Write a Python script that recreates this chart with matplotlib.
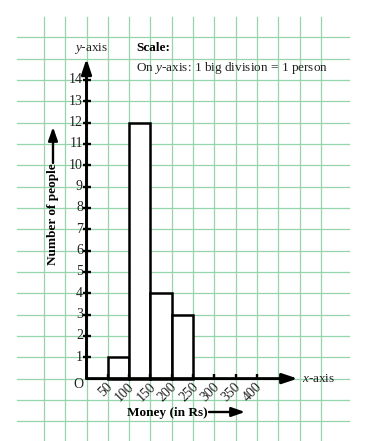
import matplotlib
matplotlib.use("Agg")
import matplotlib.pyplot as plt

# money spent by people, class intervals of Rs 50
class_starts = [50, 100, 150, 200]
people = [1, 12, 4, 3]
class_width = 50
x_tick_values = [50, 100, 150, 200, 250, 300, 350, 400]
y_tick_values = list(range(1, 15))

plt.rcParams['font.family'] = 'Liberation Serif'
plt.rcParams['mathtext.fontset'] = 'custom'
plt.rcParams['mathtext.rm'] = 'Liberation Serif'
plt.rcParams['mathtext.it'] = 'Liberation Serif:italic'

GRID = '#97d3ab'
CELL = 21.33          # size of one graph-paper square in pixels
ORIGIN = (86.5, 378.6)  # where the axes cross, in pixels
W, H = 382, 441


def px_x(p):
    return (p - ORIGIN[0]) / CELL * class_width


def px_y(p):
    return (ORIGIN[1] - p) / CELL


fig = plt.figure(figsize=(W / 100, H / 100), dpi=100)
ax = fig.add_axes([0, 0, 1, 1])
ax.set_xlim(px_x(0), px_x(W))
ax.set_ylim(px_y(H), px_y(0))
ax.axis('off')

# graph paper
for gx in range(-100, 551, 50):
    ax.plot([gx, gx], [px_y(H + 5), px_y(17)], color=GRID, lw=0.9, zorder=1)
for gy in range(-2, 17):
    ax.plot([px_x(17), px_x(349)], [gy, gy], color=GRID, lw=0.9, zorder=1)

# histogram
ax.bar(class_starts, people, width=class_width, align='edge',
       facecolor='white', edgecolor='black', linewidth=1.8, zorder=3)

# axes with arrows
ax.annotate('', xy=(0, 15), xytext=(0, 0),
            arrowprops=dict(arrowstyle='-|>,head_length=0.9,head_width=0.3',
                            color='black', lw=2.1, shrinkA=0, shrinkB=0),
            zorder=4)
ax.annotate('', xy=(495, 0), xytext=(0, 0),
            arrowprops=dict(arrowstyle='-|>,head_length=0.9,head_width=0.3',
                            color='black', lw=2.1, shrinkA=0, shrinkB=0),
            zorder=4)

# tick marks
tx = 4 / CELL * class_width
ax.hlines(y_tick_values, -tx, tx, colors='black', lw=1.7, zorder=4)
ax.vlines(x_tick_values, 0, 5 / CELL, colors='black', lw=1.7, zorder=4)

for v in y_tick_values:
    ax.text(px_x(83), v, str(v), ha='right', va='center', fontsize=10,
            color='#222222')
for v in x_tick_values:
    ax.text(v + 3 / CELL * class_width, -6 / CELL, str(v), rotation=45,
            rotation_mode='anchor', ha='right', va='center', fontsize=10,
            color='#222222')

ax.text(px_x(78), px_y(385), 'O', ha='center', va='center', fontsize=10,
        color='#222222')
ax.text(px_x(91), px_y(48.3), '$y$-axis', ha='center', va='center',
        fontsize=9.5, color='#222222')
ax.text(px_x(302), 0, '$x$-axis', ha='left', va='center', fontsize=9.5,
        color='#222222')

ax.text(px_x(136), px_y(48.5), 'Scale:', ha='left', va='center',
        fontsize=9.5, fontweight='bold')
ax.text(px_x(136), px_y(68), 'On $y$-axis: 1 big division = 1 person',
        ha='left', va='center', fontsize=9.5, color='#222222')

# axis titles with their arrows
ax.text(px_x(53), px_y(214), 'Number of people', rotation=90,
        ha='center', va='center', fontsize=9.5, fontweight='bold')
ax.annotate('', xy=(px_x(53), px_y(127)), xytext=(px_x(53), px_y(163)),
            arrowprops=dict(arrowstyle='-|>,head_length=0.8,head_width=0.28',
                            color='black', lw=1.7, shrinkA=0, shrinkB=0))
ax.text(px_x(167), px_y(413), 'Money (in Rs)', ha='center', va='center',
        fontsize=9.5, fontweight='bold')
ax.annotate('', xy=(px_x(245), px_y(412)), xytext=(px_x(209), px_y(412)),
            arrowprops=dict(arrowstyle='-|>,head_length=0.8,head_width=0.28',
                            color='black', lw=1.7, shrinkA=0, shrinkB=0))

fig.savefig('out.png', dpi=100)
